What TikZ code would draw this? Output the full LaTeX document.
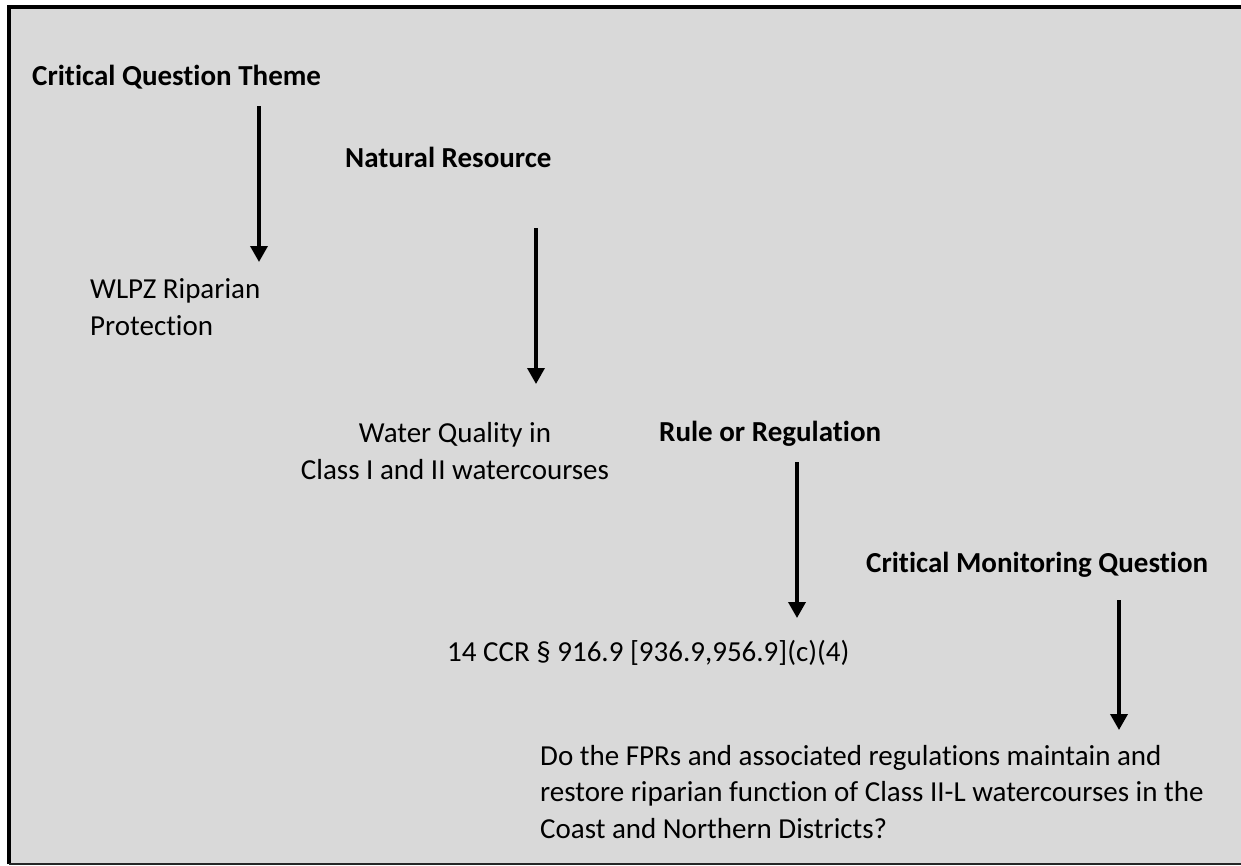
\documentclass[tikz,border=0pt]{standalone}
\usepackage{fontspec}
\setmainfont{Carlito}[Ligatures=NoCommon]
\usetikzlibrary{arrows.meta}
\definecolor{panel}{RGB}{217,217,217}

\tikzset{heading/.style={font=\fontsize{29}{36.5}\selectfont\bfseries,anchor=west,inner sep=0pt},
	body/.style={font=\fontsize{29}{36.5}\selectfont,inner sep=0pt},
	flow/.style={-{Triangle[width=17pt,length=16pt]},line width=3.5pt}}

\begin{document}
\begin{tikzpicture}[x=1pt,y=-1pt]
	\useasboundingbox (0,0) rectangle (1241,865);
	\fill[panel] (9,7) rectangle (1241,865);
	\draw[line width=4pt] (9,864) -- (9,6.5) -- (1241,6.5);
	\draw[line width=2pt,black!85] (9,864) -- (1241,864);

	% headings
	\node[heading] (theme) at (32,77) {Critical Question Theme};
	\node[heading] (resource) at (345,157) {Natural Resource};
	\node[heading] (rule) at (659,434) {Rule or Regulation};
	\node[heading] (question) at (866,565) {Critical Monitoring Question};

	% entries
	\node[body,anchor=west,align=left] (wlpz) at (90,307) {WLPZ Riparian\\Protection};
	\node[body,align=center] (water) at (455,451) {Water Quality in\\Class I and II watercourses};
	\node[body,anchor=west] (ccr) at (447,653) {14 CCR \S{} 916.9 [936.9,956.9](c)(4)};
	\node[body,anchor=west,align=left] (fpr) at (540,792) {Do the FPRs and associated regulations maintain and\\
		restore riparian function of Class II-L watercourses in the\\Coast and Northern Districts?};

	% arrows
	\coordinate (theme-a) at (259,106);
	\coordinate (theme-b) at (259,262);
	\coordinate (resource-a) at (536,228);
	\coordinate (resource-b) at (536,384);
	\coordinate (rule-a) at (797,462);
	\coordinate (rule-b) at (797,618);
	\coordinate (question-a) at (1119,600);
	\coordinate (question-b) at (1119,730);

	\draw[flow] (theme-a) -- (theme-b);
	\draw[flow] (resource-a) -- (resource-b);
	\draw[flow] (rule-a) -- (rule-b);
	\draw[flow] (question-a) -- (question-b);
\end{tikzpicture}
\end{document}
